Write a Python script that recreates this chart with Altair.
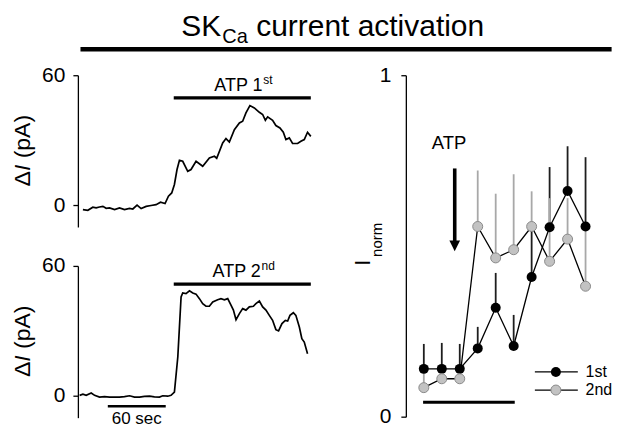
import altair as alt
import pandas as pd

FONT = "Liberation Sans"

# ---------------- data ----------------
# Trace 1 (ATP 1st): time (s) / current change (pA)
trace1_time = [5.2, 10.3, 15.5, 18.9, 22.4, 25.9, 29.3, 32.8, 38.0, 43.1,
               48.3, 53.5, 56.9, 61.3, 65.5, 70.7, 75.8, 81.0, 85.6, 90.3,
               93.8, 97.2, 100.0, 102.7, 105.2, 108.6, 113.8, 117.2, 122.4, 129.3,
               136.2, 141.4, 143.8, 150.0, 153.4, 156.9, 162.1, 167.3, 170.7, 174.1,
               178.2, 182.8, 188.0, 191.4, 194.2, 196.6, 201.7, 205.1, 209.3, 212.8,
               215.5, 219.0, 222.4, 227.6, 231.0, 234.5, 237.9, 241.3]
trace1_pA = [-2.0, -2.3, -0.9, -1.2, -0.8, -0.5, -1.4, -1.2, -2.0, -1.2,
             -2.0, -1.4, -1.7, 0.1, -1.5, -0.5, -0.1, 0.3, 1.4, 0.8,
             4.2, 5.7, 9.6, 16.5, 20.8, 20.3, 15.7, 16.5, 20.3, 18.0,
             21.8, 22.6, 21.7, 28.8, 30.8, 29.2, 34.9, 38.0, 38.8, 42.6,
             46.0, 44.9, 42.9, 41.9, 39.2, 40.8, 39.2, 36.8, 35.7, 33.7,
             30.3, 31.1, 28.5, 28.5, 29.5, 30.3, 33.7, 31.8]

# Trace 2 (ATP 2nd)
trace2_time = [1.8, 5.2, 8.6, 13.8, 17.3, 22.4, 27.6, 32.8, 38.0, 43.1,
               48.3, 53.5, 58.7, 63.8, 69.0, 74.2, 79.3, 84.5, 87.9, 93.1,
               96.5, 100.0, 103.5, 105.2, 106.9, 108.6, 112.0, 115.6, 119.0, 122.4,
               125.9, 129.3, 132.7, 136.2, 139.7, 144.8, 148.2, 151.8, 155.2, 158.6,
               161.1, 163.8, 167.3, 170.7, 174.1, 177.6, 181.8, 184.4, 188.0, 191.4,
               194.8, 198.3, 201.7, 205.1, 207.9, 211.4, 214.9, 217.3, 219.7, 223.2,
               225.8, 229.4, 232.0, 234.5, 237.9]
trace2_pA = [0.3, 0.8, 0.3, 1.4, 0.3, -0.5, -0.3, -0.5, -0.5, -0.5,
             -0.3, 0.1, -0.5, -0.5, -0.2, -0.1, -0.4, -0.5, 0.1, -0.1,
             0.3, 1.8, 18.0, 31.8, 45.7, 47.5, 47.2, 48.5, 47.5, 47.0,
             44.9, 42.6, 41.4, 41.4, 43.4, 44.4, 44.9, 44.4, 44.9, 41.9,
             39.6, 35.2, 38.0, 40.3, 39.6, 41.1, 41.4, 42.6, 43.8, 41.1,
             39.6, 37.2, 34.9, 30.6, 30.0, 33.4, 34.9, 34.6, 37.2, 38.4,
             37.2, 31.8, 26.4, 24.9, 19.5]

# Summary panel: normalised current per sweep, upper end of error bar
sweep = [1, 2, 3, 4, 5, 6, 7, 8, 9, 10]
first_mean = [0.140, 0.140, 0.140, 0.200, 0.319, 0.207, 0.409, 0.555, 0.661, 0.557]
first_upper = [0.213, 0.216, 0.213, 0.263, 0.421, 0.298, 0.550, 0.731, 0.792, 0.760]
second_mean = [0.085, 0.111, 0.111, 0.557, 0.465, 0.489, 0.557, 0.455, 0.520, 0.382]
second_upper = [0.130, 0.125, 0.125, 0.721, 0.653, 0.710, 0.660, 0.640, 0.640, 0.550]

trace_ticks = [0, 60]
norm_ticks = [0, 1]
atp_window = [99.3, 241.3]     # ATP application (s)
scale_bar = [31.0, 91.0]       # 60 s scale bar
atp_sweeps = [1, 6]            # ATP application (sweeps)

# ---------------- layout constants ----------------
W_L, H_L = 234, 152
T_MAX = 242.0
PXS = T_MAX / W_L            # seconds per pixel
PPA = 70.0 / H_L             # pA per pixel
W_R, H_R = 198, 342
NO_BOX = alt.ViewBackground(stroke="transparent", strokeWidth=0)

def df(**cols):
    return pd.DataFrame(cols)

# ---------------- trace panels ----------------
trace_axis = alt.Axis(values=trace_ticks, title=None, grid=False, labelFont=FONT,
                      labelFontSize=21, labelColor="black", labelPadding=8,
                      tickSize=5, tickColor="black", tickWidth=1.3,
                      domainColor="black", domainWidth=1.3)

def trace_panel(time, pA, bar_val, main_lab, sup_lab, lab_right, lab_val, with_scale):
    X = alt.X("x:Q", scale=alt.Scale(domain=[0, T_MAX]), axis=None)
    Y = alt.Y("y:Q", scale=alt.Scale(domain=[-10, 60]), axis=trace_axis)
    layers = []
    layers.append(alt.Chart(df(x=time, y=pA)).mark_line(
        color="black", strokeWidth=1.7, clip=False).encode(x=X, y=Y))
    layers.append(alt.Chart(df(x=[atp_window[0]], x2=[atp_window[1]], y=[bar_val])).mark_rule(
        color="black", strokeWidth=3.2).encode(x=X, x2="x2:Q", y=Y))
    layers.append(alt.Chart(df(x=[lab_right], y=[lab_val])).mark_text(
        text=main_lab, font=FONT, fontSize=18, align="right", baseline="alphabetic",
        color="black").encode(x=X, y=Y))
    layers.append(alt.Chart(df(x=[lab_right + 0.8], y=[lab_val])).mark_text(
        text=sup_lab, font=FONT, fontSize=12, align="left", baseline="alphabetic",
        dy=-7, color="black").encode(x=X, y=Y))
    # y title: Delta, italic I, (pA), rotated
    fs = 23
    tx = -48 * PXS
    centre = 25.2
    total = (0.668 + 0.278 + 0.278 + 0.333 + 0.556 + 0.667 + 0.333) * fs
    start = centre - total / 2 * PPA
    p_delta = start
    p_i = p_delta + 0.668 * fs * PPA
    p_rest = p_i + (0.278 + 0.278) * fs * PPA
    for txt, pos, style in [("\u0394", p_delta, "normal"), ("I", p_i, "italic"),
                            ("(pA)", p_rest, "normal")]:
        layers.append(alt.Chart(df(x=[tx], y=[pos])).mark_text(
            text=txt, font=FONT, fontSize=fs, fontStyle=style, angle=270,
            align="left", baseline="alphabetic", color="black").encode(x=X, y=Y))
    if with_scale:
        layers.append(alt.Chart(df(x=[scale_bar[0]], x2=[scale_bar[1]], y=[-4.75])).mark_rule(
            color="black", strokeWidth=2.6).encode(x=X, x2="x2:Q", y=Y))
        layers.append(alt.Chart(df(x=[(scale_bar[0] + scale_bar[1]) / 2], y=[-10.5])).mark_text(
            text="60 sec", font=FONT, fontSize=17, align="center", baseline="middle",
            color="black").encode(x=X, y=Y))
    return alt.layer(*layers).properties(width=W_L, height=H_L, view=NO_BOX)

top = trace_panel(trace1_time, trace1_pA, 49.6, "ATP 1", "st", 191.3, 52.8, False)
bottom = trace_panel(trace2_time, trace2_pA, 51.6, "ATP 2", "nd", 189.5, 55.0, True)
left_col = alt.vconcat(top, bottom, spacing=28)

# ---------------- summary panel ----------------
XR = alt.X("x:Q", scale=alt.Scale(domain=[0, 11]), axis=None)
norm_axis = alt.Axis(values=norm_ticks, format="d", title=None, grid=False, labelFont=FONT,
                     labelFontSize=21, labelColor="black", labelPadding=10,
                     tickSize=5, tickColor="black", tickWidth=1.3,
                     domainColor="black", domainWidth=1.3)
YR = alt.Y("y:Q", scale=alt.Scale(domain=[0, 1]), axis=norm_axis)

d1 = df(x=sweep, y=first_mean, y2=first_upper)
d2 = df(x=sweep, y=second_mean, y2=second_upper)
GRAY_BAR = "#a8a8a8"
GRAY_FILL = "#c2c2c2"
GRAY_EDGE = "#8a8a8a"

r_layers = [
    alt.Chart(d1).mark_rule(color="#1e1e1e", strokeWidth=1.8).encode(x=XR, y=YR, y2="y2:Q"),
    alt.Chart(d2).mark_rule(color=GRAY_BAR, strokeWidth=1.8).encode(x=XR, y=YR, y2="y2:Q"),
    alt.Chart(d1).mark_line(color="black", strokeWidth=1.3).encode(x=XR, y=YR),
    alt.Chart(d2).mark_line(color="black", strokeWidth=1.3).encode(x=XR, y=YR),
    alt.Chart(d1).mark_point(shape="circle", filled=True, size=100, color="black",
                             opacity=1).encode(x=XR, y=YR),
    alt.Chart(d2).mark_point(shape="circle", filled=True, size=100, fill=GRAY_FILL,
                             stroke=GRAY_EDGE, strokeWidth=1, opacity=1).encode(x=XR, y=YR),
    # ATP bar under the x range
    alt.Chart(df(x=[atp_sweeps[0] - 0.04], x2=[atp_sweeps[1] + 0.06], y=[0.042])).mark_rule(
        color="black", strokeWidth=3).encode(x=XR, x2="x2:Q", y=YR),
    # ATP label and arrow
    alt.Chart(df(x=[2.4], y=[0.785])).mark_text(
        text="ATP", font=FONT, fontSize=18.5, align="center", baseline="alphabetic",
        color="black").encode(x=XR, y=YR),
    alt.Chart(df(x=[2.72], y=[0.727], y2=[0.51])).mark_rule(
        color="black", strokeWidth=3.6).encode(x=XR, y=YR, y2="y2:Q"),
    alt.Chart(df(x=[2.72], y=[0.50])).mark_point(
        shape="M-1,-1L1,-1L0,1Z", filled=True, size=115, color="black",
        opacity=1).encode(x=XR, y=YR),
    # legend
    alt.Chart(df(x=[7.18, 7.18], x2=[9.57, 9.57], y=[0.131, 0.078])).mark_rule(
        color="black", strokeWidth=1.3).encode(x=XR, x2="x2:Q", y=YR),
    alt.Chart(df(x=[8.35], y=[0.131])).mark_point(
        shape="circle", filled=True, size=100, color="black", opacity=1).encode(x=XR, y=YR),
    alt.Chart(df(x=[8.35], y=[0.078])).mark_point(
        shape="circle", filled=True, size=100, fill=GRAY_FILL, stroke=GRAY_EDGE,
        strokeWidth=1, opacity=1).encode(x=XR, y=YR),
    alt.Chart(df(x=[10.0, 10.0], y=[0.131, 0.078], lab=["1st", "2nd"])).mark_text(
        font=FONT, fontSize=16, align="left", baseline="middle", color="black").encode(
        x=XR, y=YR, text="lab:N"),
    # y title I_norm
    alt.Chart(df(x=[-1.98], y=[0.442])).mark_text(
        text="I", font=FONT, fontSize=22, angle=270, align="left", baseline="alphabetic",
        color="black").encode(x=XR, y=YR),
    alt.Chart(df(x=[-1.33], y=[0.468])).mark_text(
        text="norm", font=FONT, fontSize=15, angle=270, align="left", baseline="alphabetic",
        color="black").encode(x=XR, y=YR),
]
right = alt.layer(*r_layers).properties(width=W_R, height=H_R, view=NO_BOX)

body = alt.hconcat(left_col, right, spacing=37.5)

# ---------------- header (origin aligned with the left panels' axis) ----------------
W_H, H_H = 536, 42
XH = alt.X("x:Q", scale=alt.Scale(domain=[0, W_H]), axis=None)
YH = alt.Y("y:Q", scale=alt.Scale(domain=[H_H, 0]), axis=None)
header = alt.layer(
    alt.Chart(df(x=[2.6], x2=[534.6], y=[38])).mark_rule(
        color="black", strokeWidth=4.5).encode(x=XH, x2="x2:Q", y=YH),
    alt.Chart(df(x=[103.6], y=[25])).mark_text(
        text="SK", font=FONT, fontSize=30, align="left", baseline="alphabetic",
        color="black").encode(x=XH, y=YH),
    alt.Chart(df(x=[144.6], y=[32])).mark_text(
        text="Ca", font=FONT, fontSize=20, align="left", baseline="alphabetic",
        color="black").encode(x=XH, y=YH),
    alt.Chart(df(x=[178.6], y=[25])).mark_text(
        text="current activation", font=FONT, fontSize=30, align="left",
        baseline="alphabetic", color="black").encode(x=XH, y=YH),
).properties(width=W_H, height=H_H, view=NO_BOX)

chart = alt.vconcat(header, body, spacing=11).properties(
    padding={"left": 3, "top": 3, "right": 0, "bottom": 0}
).configure_view(stroke=None, strokeWidth=0).configure(font=FONT)

chart.save("out.html", embed_options={"renderer": "svg", "actions": False})
